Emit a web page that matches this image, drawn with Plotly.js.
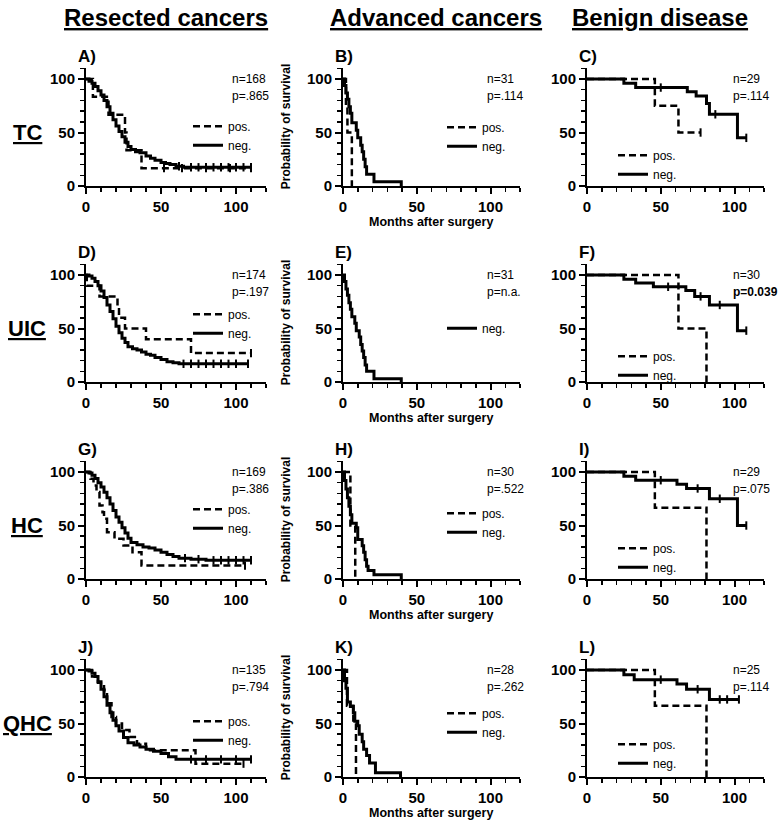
<!DOCTYPE html>
<html><head><meta charset="utf-8">
<script src="https://cdn.plot.ly/plotly-3.0.1.min.js"></script>
<style>html,body{margin:0;padding:0;background:#fff}#chart{width:778px;height:827px}</style>
</head><body><div id="chart"></div>
<script>
// ---------- DATA ----------
const colHeads = ['Resected cancers', 'Advanced cancers', 'Benign disease'];
const rowHeads = ['TC', 'UIC', 'HC', 'QHC'];
const letters = ['A)','B)','C)','D)','E)','F)','G)','H)','I)','J)','K)','L)'];
const nLabels = ['n=168','n=31','n=29','n=174','n=31','n=30','n=169','n=30','n=29','n=135','n=28','n=25'];
const pLabels = ['p=.865','p=.114','p=.114','p=.197','p=n.a.','<b>p=0.039</b>','p=.386','p=.522','p=.075','p=.794','p=.262','p=.114'];
const xTickVals = [0, 50, 100];
const yTickVals = [0, 50, 100];

// Panel A (TC, resected)
const A_pos_t = [0, 4.6, 15, 26, 27, 37, 110];
const A_pos_s = [100, 83.3, 66.7, 50, 33.3, 16.7, 16.7];
const A_pos_c = [52, 64, 80, 96, 110];
const A_neg_t = [0,2,4,6,8,10,12,14,16,18,20,22,24,26,28,30,33,36,40,43,46,50,53,56,60,65,110];
const A_neg_s = [100,98,96,93,89,85,80,74,68,62,56,51,46,41,37,34,32,31,28,26,24,22,21,20,18.5,17.5,17.5];
const A_neg_c = [62,70,75,80,85,90,95,100,105,110];
// Panel B (TC, advanced)
const B_pos_t = [0, 2, 3, 6];
const B_pos_s = [100, 75, 50, 0];
const B_pos_c = [];
const B_neg_t = [0,1,2,3,4,5,6,9,10,12,13,14,15,16,21,39.5];
const B_neg_s = [100,94,87,81,74,68,59,52,45,38,32,25,18,11,4,0];
const B_neg_c = [];
// Panel C (TC, benign)
const C_pos_t = [0, 46, 62, 77];
const C_pos_s = [100, 75, 50, 50];
const C_pos_c = [77];
const C_neg_t = [0,25,33,68,74,81,83,102,108];
const C_neg_s = [100,96,92,88,84,77,67,45,45];
const C_neg_c = [50, 87, 108];
// Panel D (UIC, resected)
const D_pos_t = [0, 0.5, 9, 21, 22, 26, 40, 70, 110];
const D_pos_s = [100, 90, 80, 70, 60, 50, 40, 27, 27];
const D_pos_c = [110];
const D_neg_t = [0,2,4,6,8,10,12,14,16,18,20,22,24,26,28,31,34,37,40,43,46,50,54,58,62,108];
const D_neg_s = [100,99,97,94,90,85,79,72,66,59,52,46,41,37,33,31,30,28,26,25,23,21,19,18,17,17];
const D_neg_c = [65,70,75,80,85,90,95,100,108];
// Panel E (UIC, advanced) - only negative group
const E_neg_t = [0,1,2,3,4,5,6,8,9,11,12,13,14,15,16,21,39.5];
const E_neg_s = [100,94,87,81,74,68,61,55,48,42,35,29,23,16,10,3,0];
const E_neg_c = [];
// Panel F (UIC, benign)
const F_pos_t = [0, 62, 81];
const F_pos_s = [100, 50, 0];
const F_pos_c = [];
const F_neg_t = [0,25,33,45,67,73,83,102,108];
const F_neg_s = [100,96,92.5,89,85.5,80,72,48,48];
const F_neg_c = [55, 77, 90, 108];
// Panel G (HC, resected)
const G_pos_t = [0,3,5,7,9,11,12,14,19,25,31,37,106];
const G_pos_s = [100,93.75,87.5,81.25,68.75,62.5,56.25,43.75,37.5,31.25,25,12.5,12.5];
const G_pos_c = [106];
const G_neg_t = [0,2,4,6,8,10,12,14,16,18,20,22,24,26,28,30,34,38,42,46,50,54,58,62,70,80,110];
const G_neg_s = [100,99,97,94,90,86,81,76,70,64,58,53,48,43,38,34,32,30,29,27,25,23,21,19.5,18.5,17.5,17.5];
const G_neg_c = [66,75,85,90,95,100,105,110];
// Panel H (HC, advanced)
const H_pos_t = [0, 5, 8.3];
const H_pos_s = [100, 50, 0];
const H_pos_c = [];
const H_neg_t = [0,1,2,3,4,5,6,9,10,13,14,15,16,17,21,39.5];
const H_neg_s = [100,92,84,76,68,60,52,48,37,31,25,18,12,8,4,0];
const H_neg_c = [];
// Panel I (HC, benign)
const I_pos_t = [0, 46, 81];
const I_pos_s = [100, 66.7, 0];
const I_pos_c = [];
const I_neg_t = [0,25,33,61,67.5,83,102,108];
const I_neg_s = [100,96,92.3,88.5,84.6,75,50,50];
const I_neg_c = [50, 75, 90, 108];
// Panel J (QHC, resected)
const J_pos_t = [0,4,8,12,14,17,20,24,29,34,40,73,105];
const J_pos_s = [100,94,88,81,69,56,50,44,37.5,31,25,12.5,12.5];
const J_pos_c = [105];
const J_neg_t = [0,2,4,6,8,10,12,14,16,18,20,22,25,28,32,36,40,45,50,55,60,110];
const J_neg_s = [100,99,97,94,89,82,75,67,60,53,48,43,37,32,30,28,26,24,22,19,16.5,16.5];
const J_neg_c = [70,80,90,100,110];
// Panel K (QHC, advanced)
const K_pos_t = [0, 2.7, 7, 8.8];
const K_pos_s = [100, 66.7, 50, 0];
const K_pos_c = [];
const K_neg_t = [0,1,2,3,5,7,8,10,11,13,14,16,18,22,39];
const K_neg_s = [100,90,83,70,66,60,52,48,40,33,26,20,13,4,0];
const K_neg_c = [];
// Panel L (QHC, benign)
const L_pos_t = [0, 46, 81];
const L_pos_s = [100, 66.7, 0];
const L_pos_c = [];
const L_neg_t = [0,25,32,61,67.5,83,103];
const L_neg_s = [100,95.5,91,87,82,72.5,72.5];
const L_neg_c = [50, 75, 90, 95, 103];

// ---------- LAYOUT HELPERS ----------
const W = 778, H = 827;
const colX = [[86, 266], [343, 520], [587, 764]];
const rowB = [186, 382, 579, 777];
const YPX = 1.07;
const rowT = rowB.map(b => b - 110 * YPX);
const px = v => v / W;
const py = v => 1 - v / H;
const FONT = 'Liberation Sans, Arial, sans-serif';

// legend "pos." row centre, in px below the top of each panel
const curves = [
  {pos:[A_pos_t,A_pos_s,A_pos_c], neg:[A_neg_t,A_neg_s,A_neg_c], leg:58},
  {pos:[B_pos_t,B_pos_s,B_pos_c], neg:[B_neg_t,B_neg_s,B_neg_c], leg:59},
  {pos:[C_pos_t,C_pos_s,C_pos_c], neg:[C_neg_t,C_neg_s,C_neg_c], leg:87},
  {pos:[D_pos_t,D_pos_s,D_pos_c], neg:[D_neg_t,D_neg_s,D_neg_c], leg:50},
  {pos:null, neg:[E_neg_t,E_neg_s,E_neg_c], leg:64},
  {pos:[F_pos_t,F_pos_s,F_pos_c], neg:[F_neg_t,F_neg_s,F_neg_c], leg:92},
  {pos:[G_pos_t,G_pos_s,G_pos_c], neg:[G_neg_t,G_neg_s,G_neg_c], leg:48},
  {pos:[H_pos_t,H_pos_s,H_pos_c], neg:[H_neg_t,H_neg_s,H_neg_c], leg:52},
  {pos:[I_pos_t,I_pos_s,I_pos_c], neg:[I_neg_t,I_neg_s,I_neg_c], leg:87},
  {pos:[J_pos_t,J_pos_s,J_pos_c], neg:[J_neg_t,J_neg_s,J_neg_c], leg:62},
  {pos:[K_pos_t,K_pos_s,K_pos_c], neg:[K_neg_t,K_neg_s,K_neg_c], leg:54},
  {pos:[L_pos_t,L_pos_s,L_pos_c], neg:[L_neg_t,L_neg_s,L_neg_c], leg:85}
];
const legX = [193, 447, 618];
const nX = [230, 485, 731];

function stepAt(t, s, c) {
  let v = s[0];
  for (let i = 0; i < t.length; i++) { if (t[i] <= c) v = s[i]; }
  return v;
}

const traces = [];
const layout = {
  width: W, height: H, margin: {l:0, r:0, t:0, b:0},
  paper_bgcolor: '#fff', plot_bgcolor: '#fff',
  font: {family: FONT, color: '#000'},
  showlegend: true, hovermode: false,
  annotations: []
};

curves.forEach((cv, i) => {
  const k = i + 1;
  const col = i % 3, row = Math.floor(i / 3);
  const xa = 'x' + (k === 1 ? '' : k), ya = 'y' + (k === 1 ? '' : k);
  const legName = 'legend' + (k === 1 ? '' : k);
  const axBase = {
    showline: true, linewidth: 2, linecolor: '#000', mirror: false,
    ticks: 'outside', ticklen: 6, tickwidth: 2, tickcolor: '#000',
    showgrid: false, zeroline: false,
    tickfont: {family: FONT, size: 15, weight: 'bold', color: '#000'},
    minor: {dtick: 10, ticks: 'outside', ticklen: 4, tickwidth: 1.5, tickcolor: '#000', showgrid: false},
    fixedrange: true
  };
  layout['xaxis' + (k === 1 ? '' : k)] = Object.assign({}, axBase, {
    domain: [px(colX[col][0]), px(colX[col][1])], range: [0, 120],
    tickmode: 'array', tickvals: xTickVals, anchor: ya
  });
  layout['yaxis' + (k === 1 ? '' : k)] = Object.assign({}, axBase, {
    domain: [py(rowB[row]), py(rowT[row])], range: [0, 110],
    tickmode: 'array', tickvals: yTickVals, anchor: xa
  });
  layout[legName] = {
    x: px(legX[col] - 5), xanchor: 'left',
    y: py(rowT[row] + cv.leg - 14.5), yanchor: 'top',
    bgcolor: 'rgba(0,0,0,0)', borderwidth: 0, itemwidth: 30,
    font: {family: FONT, size: 12, color: '#000'}, tracegroupgap: 0
  };
  const groups = [];
  if (cv.pos) groups.push(['pos.', cv.pos, 'dash', 2.5]);
  groups.push(['neg.', cv.neg, 'solid', 3]);
  groups.forEach(([name, d, dash, w]) => {
    traces.push({
      x: d[0], y: d[1], type: 'scatter', mode: 'lines', name: name,
      line: {shape: 'hv', color: '#000', width: w, dash: dash === 'dash' ? '7px,4px' : 'solid'},
      xaxis: xa, yaxis: ya, legend: legName, cliponaxis: false
    });
    if (d[2].length) {
      traces.push({
        x: d[2], y: d[2].map(c => stepAt(d[0], d[1], c)), type: 'scatter', mode: 'markers',
        marker: {symbol: 'line-ns', size: 6, line: {width: 2, color: '#000'}, color: '#000'},
        xaxis: xa, yaxis: ya, showlegend: false, cliponaxis: false
      });
    }
  });
  // panel letter
  layout.annotations.push({xref:'paper', yref:'paper', x: px(colX[col][0] - 10), y: py(rowT[row] - 12),
    xanchor:'left', yanchor:'middle', showarrow:false, text: letters[i],
    font:{family: FONT, size: 17, weight:'bold', color:'#000'}});
  // n / p
  layout.annotations.push({xref:'paper', yref:'paper', x: px(nX[col]), y: py(rowT[row] + 11),
    xanchor:'left', yanchor:'middle', showarrow:false, text: nLabels[i],
    font:{family: FONT, size: 12, color:'#000'}});
  layout.annotations.push({xref:'paper', yref:'paper', x: px(nX[col]), y: py(rowT[row] + 28),
    xanchor:'left', yanchor:'middle', showarrow:false, text: pLabels[i],
    font:{family: FONT, size: 12, color:'#000'}});
  if (col === 1) {
    layout.annotations.push({xref:'paper', yref:'paper', x: px(286), y: py((rowB[row] + rowT[row]) / 2),
      xanchor:'center', yanchor:'middle', showarrow:false, textangle:-90, text:'Probability of survival',
      font:{family: FONT, size: 12, weight:'bold', color:'#000'}});
    layout.annotations.push({xref:'paper', yref:'paper', x: px((colX[1][0] + colX[1][1]) / 2), y: py(rowB[row] + 36),
      xanchor:'center', yanchor:'middle', showarrow:false, text:'Months after surgery',
      font:{family: FONT, size: 12.5, weight:'bold', color:'#000'}});
  }
});

// column headings
const headX = [166, 436, 660];
colHeads.forEach((h, c) => layout.annotations.push({xref:'paper', yref:'paper', x: px(headX[c]), y: py(17),
  xanchor:'center', yanchor:'middle', showarrow:false, text: '<u>' + h + '</u>',
  font:{family: FONT, size: 24, weight:'bold', color:'#000'}}));
// row headings
rowHeads.forEach((h, r) => layout.annotations.push({xref:'paper', yref:'paper', x: px(27), y: py(rowB[r] - 50 * YPX),
  xanchor:'center', yanchor:'middle', showarrow:false, text: '<u>' + h + '</u>',
  font:{family: FONT, size: 22, weight:'bold', color:'#000'}}));

Plotly.newPlot('chart', traces, layout, {staticPlot: true, displayModeBar: false});
</script></body></html>
